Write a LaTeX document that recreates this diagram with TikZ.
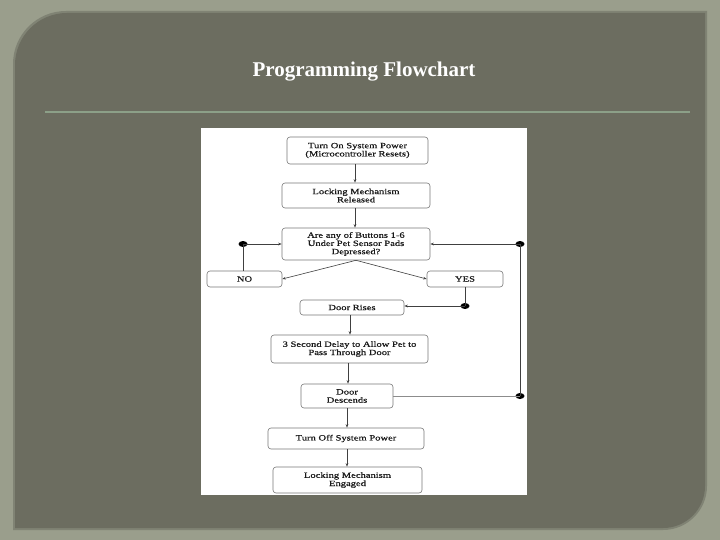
\documentclass[tikz,border=0pt]{standalone}
\usepackage{fontspec}
\setmainfont{Liberation Serif}
\newfontfamily\boxfont[FakeStretch=1.32,FakeBold=0.6]{Liberation Serif}
\usetikzlibrary{arrows.meta,shapes.geometric}
\definecolor{outerbg}{RGB}{154,158,140}
\definecolor{panel}{RGB}{108,109,96}
\definecolor{panelrim}{RGB}{128,131,116}
\definecolor{rule}{RGB}{140,160,136}
\definecolor{boxline}{RGB}{120,120,120}
\tikzset{
  fbox/.style={draw=boxline, line width=0.6pt, rounded corners=3pt, fill=white,
    inner sep=0pt, align=center, font=\boxfont\fontsize{8}{8.2}\selectfont, text=black!90},
  arr/.style={draw=black!75, line width=0.6pt, -{Stealth[length=3.5pt,width=2.6pt]}},
  ln/.style={draw=black!75, line width=0.6pt},
  dot/.style={ellipse, fill=black, inner sep=0pt, minimum width=9pt, minimum height=6pt},
}
\begin{document}
\begin{tikzpicture}[x=1pt,y=-1pt]
\useasboundingbox (0,0) rectangle (720,540);
\fill[outerbg] (0,0) rectangle (720,540);
% panel
\fill[panelrim] (66,11) -- (707,11) -- (707,486) arc[start angle=0,end angle=90,radius=44] -- (13,530) -- (13,64) arc[start angle=180,end angle=270,radius=53] -- cycle;
\fill[panel] (67,13) -- (705,13) -- (705,486) arc[start angle=0,end angle=90,radius=42] -- (15,528) -- (15,65) arc[start angle=180,end angle=270,radius=52] -- cycle;
% title and rule
\node[text=white, font=\fontsize{21}{21}\bfseries] (title) at (364,72) {Programming Flowchart};
\draw[rule, line width=1.2pt] (45,112) -- (690,112);
% white image area
\fill[white] (201,128) rectangle (527,495);
% boxes
\node[fbox, minimum width=141pt, minimum height=27pt] (b1) at (357.5,150.5) {Turn On System Power\\(Microcontroller Resets)};
\node[fbox, minimum width=148pt, minimum height=25pt] (b2) at (356,195.5) {Locking Mechanism\\Released};
\node[fbox, minimum width=148pt, minimum height=32pt] (b3) at (356,244) {Are any of Buttons 1-6\\Under Pet Sensor Pads\\Depressed?};
\node[fbox, minimum width=75pt, minimum height=16pt] (no) at (244.5,279) {NO};
\node[fbox, minimum width=76pt, minimum height=16pt] (yes) at (465,279) {YES};
\node[fbox, minimum width=104pt, minimum height=15pt] (rise) at (352,307.5) {Door Rises};
\node[fbox, minimum width=157pt, minimum height=28pt] (delay) at (349.5,349) {3 Second Delay to Allow Pet to\\Pass Through Door};
\node[fbox, minimum width=92pt, minimum height=24pt] (desc) at (347,396) {Door\\Descends};
\node[fbox, minimum width=156pt, minimum height=21pt] (off) at (346,438.5) {Turn Off System Power};
\node[fbox, minimum width=149pt, minimum height=26pt] (eng) at (347.5,480) {Locking Mechanism\\Engaged};
% junction dots
\node[dot] (dno) at (243,244) {};
\node[dot] (dyes) at (465,306) {};
\node[dot] (dr1) at (520,244) {};
\node[dot] (dr2) at (520,396) {};
% vertical flow
\draw[arr] (b1.south -| 355,0) -- (b2.north -| 355,0);
\draw[arr] (b2.south -| 355,0) -- (b3.north -| 355,0);
\draw[arr] (b3.south) -- (no.east);
\draw[arr] (b3.south) -- (yes.west);
\draw[ln] (no.north -| dno) -- (dno.center);
\draw[arr] (dno.center) -- (b3.west);
\draw[ln] (yes.south) -- (dyes.center);
\draw[arr] (dyes.center) -- (rise.east |- dyes);
\draw[arr] (rise.south -| 350,0) -- (delay.north -| 350,0);
\draw[arr] (delay.south -| 348,0) -- (desc.north -| 348,0);
\draw[arr] (desc.south -| 347,0) -- (off.north -| 347,0);
\draw[arr] (off.south -| 347,0) -- (eng.north -| 347,0);
\draw[ln, draw=black!45] (desc.east) -- (dr2.center);
\draw[ln] (dr2.center) -- (dr1.center);
\draw[arr] (dr1.center) -- (b3.east);
\end{tikzpicture}
\end{document}
